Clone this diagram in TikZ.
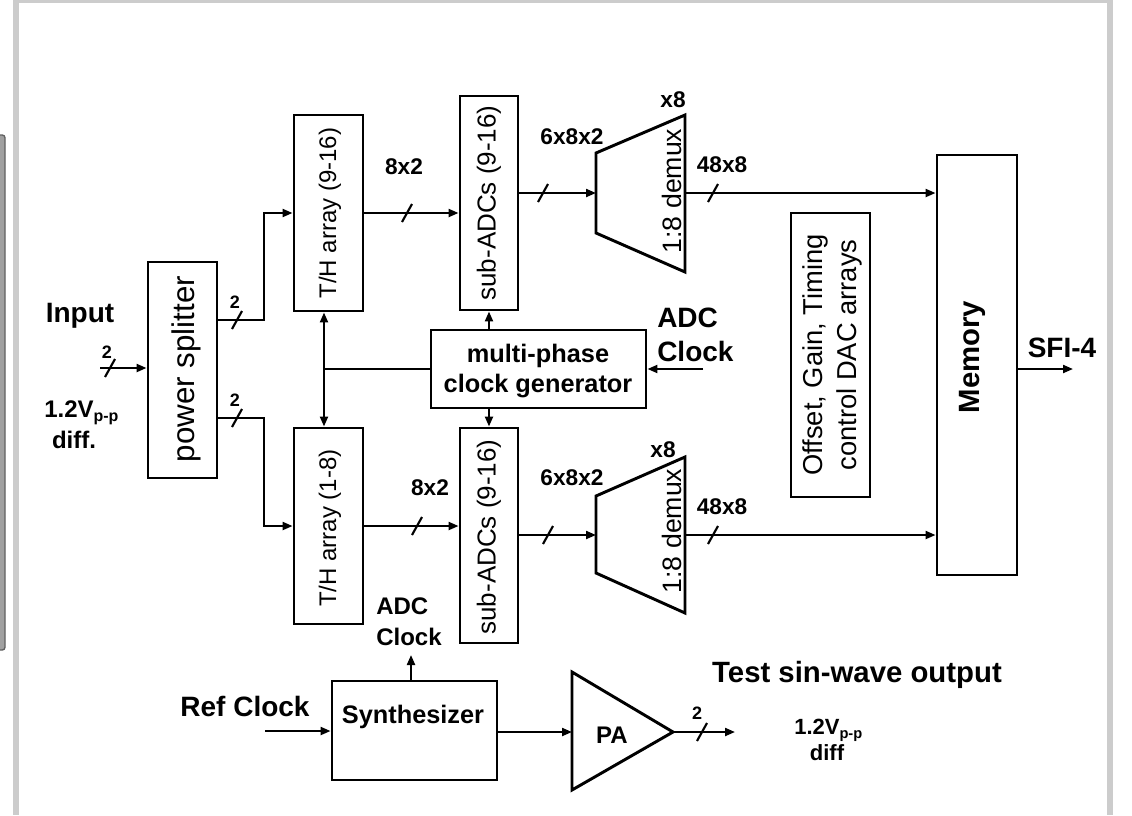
\documentclass[tikz,border=0pt]{standalone}
\usepackage{fontspec}
\setmainfont{Liberation Sans}
\usetikzlibrary{arrows.meta,calc,fit}
\definecolor{framegray}{HTML}{CCCCCC}
\definecolor{tabfill}{HTML}{A0A0A0}
\definecolor{tabedge}{HTML}{606060}
\newcommand\myfs[2]{\fontsize{#1}{#2}\selectfont}
\newcommand\busmark[2]{\draw[conn] (#1,#2) ++(-5,9) -- ++(10,-18);}
\begin{document}
\begin{tikzpicture}[x=0.75pt,y=-0.75pt,
  box/.style={draw, line width=2.2pt, inner sep=0pt},
  shp/.style={line width=2.2pt, line join=miter},
  conn/.style={line width=1.6pt},
  arr/.style={conn,-{Triangle[length=7.5pt,width=6pt]}},
  darr/.style={conn,{Triangle[length=7.5pt,width=6pt]}-{Triangle[length=7.5pt,width=6pt]}},
  lbl/.style={inner sep=0pt, font=\bfseries\myfs{17}{20}},
  big/.style={inner sep=0pt, font=\bfseries\myfs{21}{24}},
  small/.style={inner sep=0pt, font=\bfseries\myfs{13.5}{15}},
  rot/.style={inner sep=0pt, rotate=90, font=\myfs{18}{22}},
]
\useasboundingbox (0,0) rectangle (1132,815);
% frame
\fill[framegray] (13,0) rectangle (19,815);
\fill[framegray] (1107,0) rectangle (1113,815);
\fill[framegray] (13,0) rectangle (1113,3);
\draw[tabedge, fill=tabfill, line width=1pt, rounded corners=2pt] (-3,135) rectangle (5,650);

% boxes
\node[box, fit={(148,262) (217,478)}] (ps) {};
\node[rot, font=\myfs{23.5}{26}] (pst) at (186,369) {power splitter};
\node[box, fit={(294,115) (363,311)}] (th1) {};
\node[rot] (th1t) at (330,213) {T/H array (9-16)};
\node[box, fit={(460,96) (518,310)}] (sa1) {};
\node[rot, font=\myfs{19.5}{22}] (sa1t) at (489,203) {sub-ADCs (9-16)};
\node[box, fit={(294,428) (363,624)}] (th2) {};
\node[rot] (th2t) at (330,528) {T/H array (1-8)};
\node[box, fit={(460,428) (518,643)}] (sa2) {};
\node[rot, font=\myfs{19.5}{22}] (sa2t) at (489,537) {sub-ADCs (9-16)};
\node[box, fit={(431,330) (646,408)}] (cg) {};
\node[inner sep=0pt, align=center, font=\bfseries\myfs{19}{23}] (cgt) at (538,371) {multi-phase\\clock generator};
\node[box, fit={(937,155) (1017,575)}] (mem) {};
\node[rot, font=\bfseries\myfs{22}{24}] (memt) at (972,357) {Memory};
\node[box, fit={(791,213) (870,497)}] (ofs) {};
\node[rot, align=center, font=\myfs{20.5}{25.5}] (ofst) at (832,355) {Offset, Gain, Timing\\control DAC arrays};
\node[box, fit={(332,681) (497,780)}] (syn) {};
\node[inner sep=0pt, font=\bfseries\myfs{19}{22}] (synt) at (413,717) {Synthesizer};

% demux 1
\coordinate (d1a) at (596,153); \coordinate (d1b) at (685,115);
\coordinate (d1c) at (685,272); \coordinate (d1d) at (596,233);
\draw[shp] (d1a) -- (d1b) -- (d1c) -- (d1d) -- cycle;
\node[rot, font=\myfs{20}{22}] (d1t) at (672,191) {1:8 demux};
\coordinate (d1in) at (596,193); \coordinate (d1out) at (685,193);
% demux 2
\coordinate (d2a) at (596,496); \coordinate (d2b) at (685,457);
\coordinate (d2c) at (685,613); \coordinate (d2d) at (596,573);
\draw[shp] (d2a) -- (d2b) -- (d2c) -- (d2d) -- cycle;
\node[rot, font=\myfs{20}{22}] (d2t) at (672,531) {1:8 demux};
\coordinate (d2in) at (596,535); \coordinate (d2out) at (685,535);
% PA
\coordinate (pa1) at (572,672); \coordinate (pa2) at (673,732); \coordinate (pa3) at (572,790);
\draw[shp] (pa1) -- (pa2) -- (pa3) -- cycle;
\node[inner sep=0pt, font=\bfseries\myfs{18}{20}] (pat) at (612,735) {PA};
\coordinate (pain) at (572,732);

% input
\node[big] (inputt) at (80,316) {Input};
\coordinate (inL) at (100,368);
\draw[arr] (inL) -- (inL -| ps.west);
\busmark{110}{368}
\node[small] (in2) at (107,352) {2};
\node[inner sep=0pt, anchor=west, font=\bfseries\myfs{18}{20}] (inv) at (44,413) {1.2V\raisebox{-0.35ex}{\myfs{12}{13}p-p}};
\node[inner sep=0pt, font=\bfseries\myfs{18}{20}] (indiff) at (74,440) {diff.};

% splitter outputs
\coordinate (psU) at (264,320);
\coordinate (psD) at (264,418);
\draw[arr] (ps.east |- psU) -- (psU) |- (th1.west);
\draw[arr] (ps.east |- psD) -- (psD) |- (th2.west);
\busmark{237}{320}
\busmark{237}{418}
\node[small] (ps2a) at (235,302) {2};
\node[small] (ps2b) at (235,400) {2};

% T/H to sub-ADC
\draw[arr] (th1.east) -- (sa1.west |- th1.east);
\busmark{407}{213}
\node[lbl] (l8a) at (404,167) {8x2};
\draw[arr] (th2.east) -- (sa2.west |- th2.east);
\busmark{417}{526}
\node[lbl] (l8b) at (430,488) {8x2};

% sub-ADC to demux
\draw[arr] (sa1.east |- d1in) -- (d1in);
\busmark{543}{193}
\node[lbl] (l6a) at (572,137) {6x8x2};
\draw[arr] (sa2.east |- d2in) -- (d2in);
\busmark{548}{535}
\node[lbl] (l6b) at (572,478) {6x8x2};
\node[lbl] (x8a) at (673,100) {x8};
\node[lbl] (x8b) at (663,450) {x8};

% demux to memory
\draw[arr] (d1out) -- (mem.west |- d1out);
\busmark{713}{193}
\node[lbl] (l48a) at (722,165) {48x8};
\draw[arr] (d2out) -- (mem.west |- d2out);
\busmark{713}{535}
\node[lbl] (l48b) at (722,507) {48x8};

% memory out
\coordinate (sfi) at (1073,369);
\draw[arr] (mem.east |- sfi) -- (sfi);
\node[big] (sfit) at (1062,348) {SFI-4};

% clock generator
\draw[arr] (cg.north -| sa1.south) -- (sa1.south);
\draw[arr] (cg.south -| sa2.north) -- (sa2.north);
\coordinate (adcin) at (703,369);
\draw[arr] (adcin) -- (cg.east |- adcin);
\node[inner sep=0pt, anchor=west, align=left, font=\bfseries\myfs{21}{26}] (adct) at (657,335) {ADC\\Clock};
\coordinate (vx) at (324,369);
\draw[conn] (cg.west |- vx) -- (vx);
\draw[darr] (th1.south -| vx) -- (th2.north -| vx);

% synthesizer
\coordinate (refin) at (265,731);
\draw[arr] (refin) -- (refin -| syn.west);
\node[big] (reft) at (245,706) {Ref Clock};
\coordinate (sup) at (411,681);
\coordinate (supend) at (411,655);
\draw[arr] (sup) -- (supend);
\node[inner sep=0pt, anchor=west, align=left, font=\bfseries\myfs{18}{23}] (adc2t) at (376,622) {ADC\\Clock};
\draw[arr] (syn.east |- pain) -- (pain);
\coordinate (paout) at (735,732);
\draw[arr] (pa2) -- (paout);
\busmark{702}{732}
\node[small] (pa2t) at (697,713) {2};
\node[inner sep=0pt, font=\bfseries\myfs{22}{24}] (testt) at (857,675) {Test sin-wave output};
\node[inner sep=0pt, anchor=west, font=\bfseries\myfs{16.5}{18}] (outv) at (794,730) {1.2V\raisebox{-0.35ex}{\myfs{11}{12}p-p}};
\node[inner sep=0pt, font=\bfseries\myfs{16.5}{18}] (outdiff) at (827,753) {diff};
\end{tikzpicture}
\end{document}
